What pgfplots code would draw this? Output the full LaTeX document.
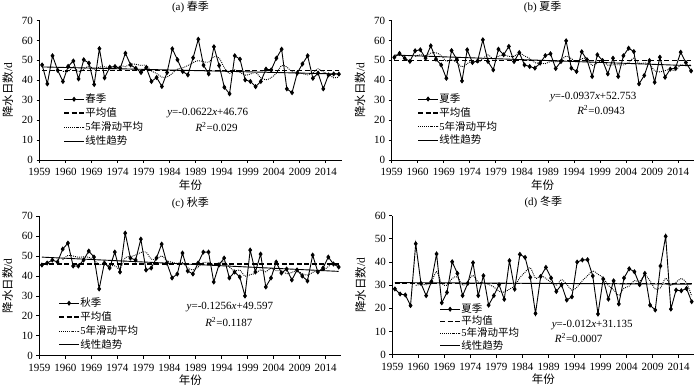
\documentclass[border=0pt]{standalone}
\usepackage{fontspec}
\setmainfont{Liberation Serif}
\newfontfamily\cjk{Noto Sans CJK SC}
\usepackage{pgfplots}
\usepackage{pgfplotstable}
\pgfplotsset{compat=1.18}

\pgfplotstableread{
yr a b c d
1959 47.7 51.5 45.5 28.4
1960 38.2 53.5 46.5 26.2
1961 52.3 51.0 48.0 25.8
1962 45.0 49.5 47.0 21.2
1963 39.4 54.8 53.5 47.9
1964 47.0 55.3 56.5 30.8
1965 49.7 51.1 45.0 25.5
1966 40.7 57.3 45.0 31.5
1967 50.3 50.6 48.0 43.5
1968 48.6 47.7 52.5 22.4
1969 37.9 41.0 49.5 26.9
1970 55.9 54.9 33.5 40.1
1971 41.2 50.6 46.5 35.1
1972 46.6 39.7 44.0 25.5
1973 46.9 55.3 52.0 30.8
1974 46.0 48.9 42.0 39.7
1975 53.6 49.7 61.5 25.5
1976 47.7 60.3 49.0 34.1
1977 46.0 49.4 48.0 21.4
1978 43.9 45.2 58.5 25.5
1979 46.4 55.6 43.0 30.2
1980 39.4 52.8 44.0 23.9
1981 41.4 57.0 49.0 40.6
1982 36.9 49.4 56.0 28.3
1983 43.9 53.9 46.5 43.3
1984 55.8 47.7 39.0 42.0
1985 50.3 46.9 41.0 33.4
1986 44.4 46.1 51.5 17.8
1987 42.7 48.6 42.5 33.8
1988 51.3 52.4 41.0 37.7
1989 60.6 53.3 46.5 33.1
1990 47.6 45.9 52.0 27.3
1991 43.2 49.4 52.0 30.2
1992 56.8 59.8 37.0 23.6
1993 47.4 46.1 45.5 25.0
1994 36.5 44.4 49.0 40.0
1995 33.2 54.3 39.0 40.9
1996 52.3 50.3 42.0 41.0
1997 50.6 41.9 39.5 34.0
1998 40.2 52.8 30.0 17.6
1999 39.4 49.9 53.0 32.7
2000 36.8 43.2 42.0 24.0
2001 39.4 51.1 51.0 31.9
2002 45.6 41.9 34.5 21.9
2003 45.2 52.3 39.0 33.1
2004 51.1 56.1 47.0 37.1
2005 55.6 54.4 41.5 35.8
2006 35.7 38.2 43.5 30.2
2007 33.8 42.4 38.0 35.1
2008 43.6 49.9 43.0 21.4
2009 48.2 39.0 40.0 19.3
2010 52.3 51.6 37.5 38.3
2011 41.0 41.5 50.5 51.1
2012 43.6 45.6 42.0 19.7
2013 35.7 46.1 44.0 27.9
2014 42.7 54.1 49.5 27.6
2015 43.2 48.9 46.0 28.6
2016 43.1 44.7 44.5 22.9
}\dat

\pgfplotstableread{
yr a b c d
1963 44.52 52.06 48.1 29.90
1964 44.38 52.82 50.3 30.38
1965 46.68 52.34 50.0 30.24
1966 44.36 53.60 49.4 31.38
1967 45.42 53.82 49.6 35.84
1968 47.26 52.40 49.4 30.74
1969 45.44 49.54 48.0 29.96
1970 46.68 50.30 45.7 32.88
1971 46.78 48.96 46.0 33.60
1972 46.04 46.78 45.2 30.00
1973 45.70 48.30 45.1 31.68
1974 47.32 49.88 43.6 34.24
1975 46.86 48.84 49.2 31.32
1976 48.16 50.78 49.7 31.12
1977 48.04 52.72 50.5 30.30
1978 47.44 50.70 51.8 29.24
1979 47.52 52.04 52.0 27.34
1980 44.68 52.66 48.5 27.02
1981 43.42 52.00 48.5 28.32
1982 41.60 52.00 50.1 29.70
1983 41.60 53.74 47.7 33.26
1984 43.48 52.16 46.9 35.62
1985 45.66 50.98 46.3 37.52
1986 46.26 48.80 46.8 32.96
1987 47.42 48.64 44.1 34.06
1988 48.90 48.34 43.0 32.94
1989 49.86 49.46 44.5 31.16
1990 49.32 49.26 46.7 29.94
1991 49.08 49.92 46.8 32.42
1992 51.90 52.16 45.7 30.38
1993 51.12 50.90 46.6 27.84
1994 46.30 49.12 47.1 29.22
1995 43.42 50.80 44.5 31.94
1996 45.24 50.98 42.5 34.10
1997 44.00 47.40 43.0 36.18
1998 42.56 48.74 39.9 34.70
1999 43.14 49.84 40.7 33.24
2000 43.86 47.62 41.3 29.86
2001 41.28 47.78 43.1 28.04
2002 40.28 47.78 42.1 25.62
2003 41.28 47.68 43.9 28.72
2004 43.62 48.92 42.7 29.60
2005 47.38 51.16 42.6 31.96
2006 46.64 48.58 41.1 31.62
2007 44.28 48.68 41.8 34.26
2008 43.96 48.20 42.6 31.92
2009 43.38 44.78 41.2 28.36
2010 42.72 44.22 40.4 28.86
2011 43.78 44.88 41.8 33.04
2012 45.74 45.52 42.6 29.96
2013 44.16 44.76 42.8 31.26
2014 43.06 47.78 44.7 32.92
2015 41.24 47.24 46.4 30.98
2016 41.66 47.88 45.2 25.34
}\ma

\pgfplotsset{
  panel/.style={
    scale only axis, width=302pt, height=139.5pt,
    xmin=1958.5, xmax=2016.5, ymin=0,
    xtick={1958.5,1963.5,1968.5,1973.5,1978.5,1983.5,1988.5,1993.5,1998.5,2003.5,2008.5,2013.5},
    xticklabels={1959,1960,1969,1974,1979,1984,1989,1994,1999,2004,2009,2014},
    axis lines=left, axis line style={-, line width=0.8pt, black},
    tick align=outside, major tick length=3pt,
    tick style={black, line width=0.8pt},
    /pgf/number format/assume math mode=true,
    tick label style={font=\fontsize{11}{12}\selectfont},
    xticklabel style={yshift=-1.5pt},
    ylabel={{\cjk 降水日数}/d}, xlabel={\cjk 年份},
    label style={font=\fontsize{11.5}{13}\selectfont},
    ylabel style={at={(axis description cs:-0.105,0.5)}, anchor=center},
    xlabel style={at={(axis description cs:0.5,-0.178)}, anchor=center},
    title style={at={(axis description cs:0.5,1)}, anchor=center, yshift=7.5pt, font=\fontsize{11}{12}\selectfont},
    legend cell align=left,
    legend style={draw=none, fill=none, inner sep=0pt, row sep=2.4pt,
      font=\fontsize{10.5}{12}\selectfont,
      nodes={inner sep=0.5pt, text height=8.5pt, text depth=2pt},
      /tikz/every even column/.append style={column sep=4pt}},
    legend image code/.code={\draw[mark repeat=2,mark phase=2,##1] plot coordinates {(0pt,0pt) (10pt,0pt) (20pt,0pt)};},
    clip=false,
  },
  dser/.style={black, line width=0.9pt, mark=diamond*, mark size=1.9pt, mark options={solid}},
  mser/.style={black, line width=1.6pt, dash pattern=on 5pt off 2.5pt},
  aser/.style={black, line width=0.9pt, dash pattern=on 0.9pt off 1.1pt, smooth},
  tser/.style={black, line width=0.9pt},
}

\begin{document}
\begin{tikzpicture}
\path[use as bounding box] (0pt,0pt) rectangle (700pt,388pt);

% (a)
\begin{axis}[panel, at={(39.5pt,228pt)}, anchor=south west,
  ymax=70, ytick={0,10,...,70}, title={(a) {\cjk 春季}},
  legend style={at={(rel axis cs:0.078,0.478)}, anchor=north west}]
\addplot[dser] table[x=yr,y=a]{\dat};
\addlegendentry{\cjk 春季}
\addplot[mser] coordinates {(1959,44.9) (2016,44.9)};
\addlegendentry{\cjk 平均值}
\addplot[aser] table[x=yr,y=a]{\ma};
\addlegendentry{5{\cjk 年滑动平均}}
\addplot[tser] coordinates {(1959,46.70) (2016,43.15)};
\addlegendentry{\cjk 线性趋势}
\node[font=\fontsize{11}{12}\selectfont] at (axis cs:1990.8,23.6) {\textit{y}=-0.0622\textit{x}+46.76};
\node[font=\fontsize{11}{12}\selectfont] at (axis cs:1992.5,16.7) {\textit{R}\textsuperscript{2}=0.029};
\end{axis}

% (b)
\begin{axis}[panel, at={(391.7pt,228pt)}, anchor=south west,
  ymax=70, ytick={0,10,...,70}, title={(b) {\cjk 夏季}},
  legend style={at={(rel axis cs:0.084,0.48)}, anchor=north west}]
\addplot[dser] table[x=yr,y=b]{\dat};
\addlegendentry{\cjk 夏季}
\addplot[mser] coordinates {(1959,50.0) (2016,50.0)};
\addlegendentry{\cjk 平均值}
\addplot[aser] table[x=yr,y=b]{\ma};
\addlegendentry{5{\cjk 年滑动平均}}
\addplot[tser] coordinates {(1959,52.66) (2016,47.32)};
\addlegendentry{\cjk 线性趋势}
\node[font=\fontsize{11}{12}\selectfont] at (axis cs:1997.2,31.8) {\textit{y}=-0.0937\textit{x}+52.753};
\node[font=\fontsize{11}{12}\selectfont] at (axis cs:1998.7,25.1) {\textit{R}\textsuperscript{2}=0.0943};
\end{axis}

% (c)
\begin{axis}[panel, at={(39.3pt,32.3pt)}, anchor=south west,
  ymax=70, ytick={0,10,...,70}, title={(c) {\cjk 秋季}},
  legend style={at={(rel axis cs:0.062,0.419)}, anchor=north west}]
\addplot[dser] table[x=yr,y=c]{\dat};
\addlegendentry{\cjk 秋季}
\addplot[mser] coordinates {(1959,45.9) (2016,45.9)};
\addlegendentry{\cjk 平均值}
\addplot[aser] table[x=yr,y=c]{\ma};
\addlegendentry{5{\cjk 年滑动平均}}
\addplot[tser] coordinates {(1959,49.47) (2016,42.31)};
\addlegendentry{\cjk 线性趋势}
\node[font=\fontsize{11}{12}\selectfont] at (axis cs:1995.1,24.2) {\textit{y}=-0.1256\textit{x}+49.597};
\node[font=\fontsize{11}{12}\selectfont] at (axis cs:1994.9,17.0) {\textit{R}\textsuperscript{2}=0.1187};
\end{axis}

% (d)
\begin{axis}[panel, at={(392.3pt,33.3pt)}, anchor=south west, height=139pt,
  ymax=60, ytick={0,10,...,60}, title={(d) {\cjk 冬季}},
  legend style={at={(rel axis cs:0.155,0.37)}, anchor=north west, row sep=0.7pt}]
\addplot[dser] table[x=yr,y=d]{\dat};
\addlegendentry{\cjk 夏季}
\addplot[mser] coordinates {(1959,30.8) (2016,30.8)};
\addlegendentry{\cjk 平均值}
\addplot[aser] table[x=yr,y=d]{\ma};
\addlegendentry{5{\cjk 年滑动平均}}
\addplot[tser] coordinates {(1959,31.12) (2016,30.44)};
\addlegendentry{\cjk 线性趋势}
\node[font=\fontsize{11}{12}\selectfont] at (axis cs:1996.9,12.9) {\textit{y}=-0.012\textit{x}+31.135};
\node[font=\fontsize{11}{12}\selectfont] at (axis cs:1994.3,7.2) {\textit{R}\textsuperscript{2}=0.0007};
\end{axis}
\end{tikzpicture}
\end{document}
